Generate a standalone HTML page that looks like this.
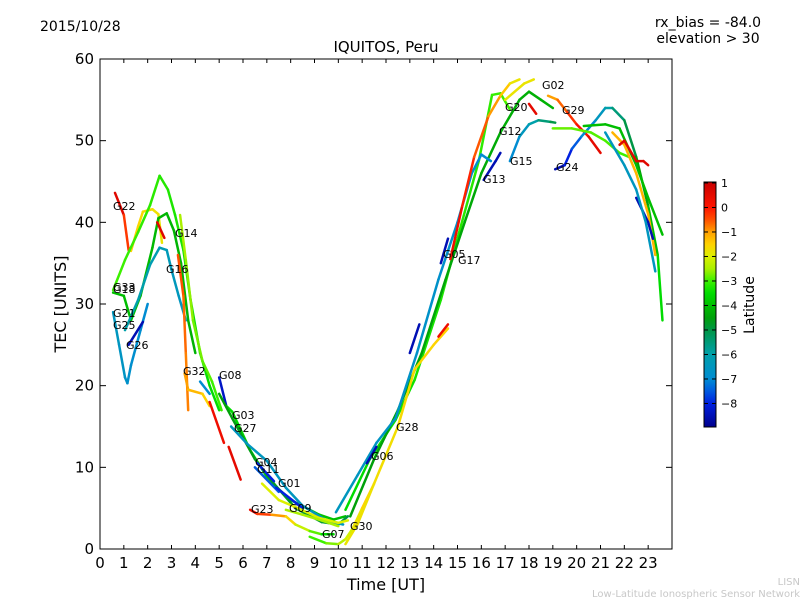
<!DOCTYPE html>
<html><head><meta charset="utf-8"><style>
body{margin:0;background:#fff;}
svg{display:block;font-family:"DejaVu Sans","Liberation Sans",sans-serif;}
</style></head><body>
<svg id="chart" width="800" height="600" viewBox="0 0 800 600">
<defs>
<linearGradient id="jet" x1="0" y1="1" x2="0" y2="0"></linearGradient>
</defs>
<rect x="0" y="0" width="800" height="600" fill="#fff"/>
<text x="40" y="31" font-size="14">2015/10/28</text>
<text x="386" y="52" font-size="15" text-anchor="middle">IQUITOS, Peru</text>
<text x="708" y="27" font-size="14" text-anchor="middle">rx_bias = -84.0</text>
<text x="708" y="43" font-size="14" text-anchor="middle">elevation &gt; 30</text>
<g id="marks"></g>
<g id="labels"></g>
<rect x="100" y="59" width="572" height="490" fill="none" stroke="#000" stroke-width="1"/>
<g id="axes"></g>
<text x="386" y="590" font-size="16" text-anchor="middle">Time [UT]</text>
<text x="66" y="304" font-size="16" text-anchor="middle" transform="rotate(-90 66 304)">TEC [UNITS]</text>
<rect x="704" y="182" width="12" height="245" fill="url(#jet)" stroke="#000" stroke-width="1"/>
<g id="cbticks"></g>
<text x="754" y="305" font-size="14" text-anchor="middle" transform="rotate(-90 754 305)">Latitude</text>
<text x="800" y="585" font-size="10" fill="#c8c8c8" text-anchor="end">LISN</text>
<text x="800" y="597" font-size="10" fill="#c8c8c8" text-anchor="end">Low-Latitude Ionospheric Sensor Network</text>
</svg>
<script>
const xTicks=[0,1,2,3,4,5,6,7,8,9,10,11,12,13,14,15,16,17,18,19,20,21,22,23];
const yTicks=[0,10,20,30,40,50,60];
const cbTicks=[1,0,-1,-2,-3,-4,-5,-6,-7,-8];
const trackNames=["G22","Y1","G33","G18","G16","G21","G26","G14r","G14","O1","G32","G08","B1","G03","GR2","G27","G04","G11","G01","YG1","G09","G23","G07","R1","R0","RG","RDG","RT","G13","RY","G17","G06","G05","BR","RR","G15","G02","G20","G29","G24","LG","GRt","ORt","BRt","RRt","TRt"];
const trackTimes=[
[0.63,1.0,1.2],[1.3,1.6,1.8,2.2,2.45,2.6],[0.55,1.05,1.6,2.1,2.5,2.85,3.15,3.5,3.8,4.2,4.6,5.0],
[0.55,1.0,1.3,1.7,2.2,2.45,2.8,3.1,3.4,3.7,4.0],[1.05,1.6,2.1,2.5,2.8,3.0,3.3,3.6],[0.55,0.8,1.05,1.15,1.3,1.7,2.0],
[1.2,1.8],[2.4,2.7],[3.36,3.6,3.9,4.3,4.7,5.1],[3.27,3.5,3.6,3.7],[3.55,3.7,4.3,4.6],[5.0,5.3],[4.2,4.6],
[5.3,5.55,6.3,7.1,8.0,9.2,9.8,10.3],[5.0,5.55,6.5,7.3,8.2,9.3,10.0,10.4],[5.5,6.2,7.0,7.8,8.5,9.5,10.2],
[6.6,7.3],[6.5,7.5],[7.4,8.5],[6.8,7.5,8.3,9.2,10.0,10.4],[7.8,8.5,9.3,10.0],[6.3,6.6,7.2,7.8,8.2,8.8,9.3,9.8],
[8.8,9.5,10.0,10.3,10.6,11.0,11.5],[5.4,5.9],[4.6,5.2],
[10.3,11.3,12.4,13.2,14.3,15.1,15.9,16.45,16.8,17.2],[10.5,11.5,12.5,13.5,14.5,15.3,16.0,16.8,17.6,18.0,18.5,19.0],
[9.9,10.8,11.6,12.4,13.3,14.2,15.0,15.6,16.0,16.4],[16.1,16.6,16.8],[10.3,10.8,11.5,12.5,13.2,14.0,14.6],
[14.7,15.2,15.7,16.3,16.8,17.2,17.6],[11.2,11.6],[14.3,14.6],[13.0,13.4],[14.2,14.6],
[17.2,17.6,18.0,18.4,18.9,19.1],[17.0,17.8,18.2],[18.0,18.3],[18.8,19.2,19.6,20.0,20.5,21.0],
[19.1,19.5,19.8,20.2,20.8,21.2,21.5,22.0,22.5,23.0,23.4,23.6],[19.0,19.8,20.6,21.2,21.8,22.2],
[20.3,21.2,21.8,22.5,23.0,23.6],[21.5,22.0,22.5,23.0,23.3],[22.5,23.0,23.2],[21.8,22.0,22.5,22.8,23.0],[21.2,21.6,22.0,22.5,22.9,23.3]];
const trackTec=[
[43.6,40.9,36.6],[36.5,39.5,41.3,41.6,41.0,37.5],[31.7,35.4,38.8,42.1,45.7,44.0,40.9,36.6,30.5,24,20,17],
[31.4,31.0,28.0,31.0,36.9,40.5,41.1,39.0,35.0,28.0,24.0],[26.8,30.5,34.8,36.9,36.6,34.2,31.0,28.0],[29,25,21,20.3,22.5,26.8,30],
[25.0,27.8],[40.0,38.1],[40.9,35.4,28.0,23.0,20.5,17.0],[36,31,24,17],[21.5,19.5,19.0,17.5],[21,17.5],[20.5,19],
[17.5,16.8,12.1,8.4,6.0,4.2,3.6,4.0],[19,16,11,8,5,3.3,3.0,4],[15,12.8,10.8,7.5,5.3,3.5,3.0],
[10.5,8.3],[10,7],[7.5,5],[8,6,5,3.8,3.2,3.5],[4.8,4.2,3.5,2.8],[4.8,4.3,4.2,4.0,3.0,2.2,1.8,1.8],
[1.5,0.7,0.6,1.2,2.5,5,8],[12.5,8.5],[18,13],
[4.8,10.9,15.8,20.7,30.5,39.1,47.6,55.6,55.8,53.8],[4,11,17,24,33,40,46,51,55,56,55,54],
[4.5,9,13,16,24,33,40,46,48.3,47.5],[45.2,47.5,48.5],[0.6,3,8,15,22,25,27],
[35.5,42,48,53,55.5,57,57.5],[10.5,12.5],[35,38],[24,27.5],[26,27.5],
[47.5,50.5,52,52.5,52.3,52.2],[55,57,57.5],[54.5,53.3],[55.5,55,53.5,52,50.5,48.5],
[46.5,47,49,50.5,52.5,54,54,52.5,48,42,36,28],[51.5,51.5,51,50,48.5,48],
[51.8,52,51.5,47,43,38.5],[51,49.5,46,41,36],[43,40,38],[49.5,50,47.5,47.5,47],[51,49,47,44,40,34]];
const trackLatStart=[0.6,-1.5,-3,-4,-6,-6.5,-8.5,0.6,-2.5,-0.5,-1,-8.3,-7,-3.5,-4.5,-6.5,-8,-7.5,-8,-2,-2.5,0.3,-3,0.5,0.3,-3.5,-4.5,-6.5,-8.5,-1.8,0.3,-8.5,-8.5,-8.5,0.3,-7,-1.8,0.5,-1,-8.5,-2.8,-4,-1.2,-8.5,0.6,-6.5];
const trackLatEnd=[-0.3,-1.8,-3.5,-4.2,-6.5,-7,-8.5,0.6,-3,-0.8,-1.5,-8.3,-7,-4,-5,-6.5,-8,-7.5,-8,-2,-2.5,-3.5,-1.5,0.5,0.3,-3,-4.2,-7,-8.5,-1.5,-1.8,-8.5,-8.5,-8.5,0.3,-5,-1.8,0.5,0.5,-3.5,-3,-4,-1.2,-8.5,0.6,-6.5];
const labelNames=["G22","G14","G16","G33","G18","G21","G25","G26","G32","G08","G03","G27","G04","G11","G01","G09","G23","G07","G30","G06","G28","G05","G17","G13","G15","G12","G20","G02","G29","G24"];
const labelX=[113,175,166,113,113,113,113,126,183,219,232,234,255,257,278,289,251,322,350,371,396,443,458,483,510,499,505,542,562,556];
const labelY=[210,237,273,291,293,317,329,349,375,379,419,432,466,473,487,512,513,538,530,460,431,258,264,183,165,135,111,89,114,171];

const NS="http://www.w3.org/2000/svg";
const X=t=>100+t*572/24, Y=v=>549-v*490/60;
const LAT_MIN=-8.96, LAT_MAX=1.04;
// colormap stops (lat -> color)
const cmLat=[-8.96,-8,-7.5,-7,-6,-5,-4.5,-4,-3.5,-3,-2.5,-2,-1.5,-1,-0.5,0,1.04];
const cmCol=[[0,0,140],[0,32,224],[0,90,224],[0,140,210],[0,160,170],[0,150,70],[0,160,10],[0,190,0],[0,220,0],[60,240,0],[170,240,0],[220,240,0],[255,210,0],[255,160,0],[255,80,0],[255,20,0],[200,0,0]];
function jet(l){l=Math.max(LAT_MIN,Math.min(LAT_MAX,l));
 for(let i=0;i<cmLat.length-1;i++){if(l<=cmLat[i+1]){const f=(l-cmLat[i])/(cmLat[i+1]-cmLat[i]);
  const c=cmCol[i].map((v,j)=>Math.round(v+(cmCol[i+1][j]-v)*f));return `rgb(${c})`;}}
 return `rgb(${cmCol[cmCol.length-1]})`;}
const grad=document.getElementById('jet');
cmLat.forEach((l,i)=>{const s=document.createElementNS(NS,'stop');
 s.setAttribute('offset',(l-LAT_MIN)/(LAT_MAX-LAT_MIN));s.setAttribute('stop-color',`rgb(${cmCol[i]})`);grad.appendChild(s);});
const marks=document.getElementById('marks');
trackTimes.forEach((ts,i)=>{
 const vs=trackTec[i];const g=document.createElementNS(NS,'g');
 
 
 for(let k=0;k<ts.length-1;k++){
  const fr=ts.length>2?k/(ts.length-2):0;
  const lat=trackLatStart[i]+(trackLatEnd[i]-trackLatStart[i])*fr;
  const ln=document.createElementNS(NS,'line');
  ln.setAttribute('x1',X(ts[k]));ln.setAttribute('y1',Y(vs[k]));
  ln.setAttribute('x2',X(ts[k+1]));ln.setAttribute('y2',Y(vs[k+1]));
  ln.setAttribute('stroke',jet(lat));ln.setAttribute('stroke-width','2.5');ln.setAttribute('stroke-linecap','round');
  
  
  g.appendChild(ln);}
 marks.appendChild(g);});
const lg=document.getElementById('labels');
labelNames.forEach((n,i)=>{const t=document.createElementNS(NS,'text');
 t.setAttribute('x',labelX[i]);t.setAttribute('y',labelY[i]);t.setAttribute('font-size','11');t.textContent=n;
 
 
 lg.appendChild(t);});
const ax=document.getElementById('axes');
xTicks.forEach(t=>{const x=X(t);
 ax.insertAdjacentHTML('beforeend',`<line x1="${x}" y1="549" x2="${x}" y2="545" stroke="#000"/><line x1="${x}" y1="59" x2="${x}" y2="63" stroke="#000"/>`);
 const tx=document.createElementNS(NS,'text');tx.setAttribute('x',x);tx.setAttribute('y',568);tx.setAttribute('font-size','15');tx.setAttribute('text-anchor','middle');tx.textContent=t;
 
 
 ax.appendChild(tx);});
yTicks.forEach(v=>{const y=Y(v);
 ax.insertAdjacentHTML('beforeend',`<line x1="100" y1="${y}" x2="106" y2="${y}" stroke="#000"/><line x1="672" y1="${y}" x2="666" y2="${y}" stroke="#000"/>`);
 const tx=document.createElementNS(NS,'text');tx.setAttribute('x',94);tx.setAttribute('y',y+5);tx.setAttribute('font-size','15');tx.setAttribute('text-anchor','end');tx.textContent=v;
 
 
 ax.appendChild(tx);});
const cb=document.getElementById('cbticks');
cbTicks.forEach(l=>{const y=427-(l-LAT_MIN)/(LAT_MAX-LAT_MIN)*245;
 cb.insertAdjacentHTML('beforeend',`<line x1="704" y1="${y}" x2="708" y2="${y}" stroke="#000"/><line x1="712" y1="${y}" x2="716" y2="${y}" stroke="#000"/>`);
 const tx=document.createElementNS(NS,'text');tx.setAttribute('x',721);tx.setAttribute('y',y+4);tx.setAttribute('font-size','11');tx.textContent=l<0?'\u2212'+(-l):l;
 
 
 cb.appendChild(tx);});
</script>
</body></html>
